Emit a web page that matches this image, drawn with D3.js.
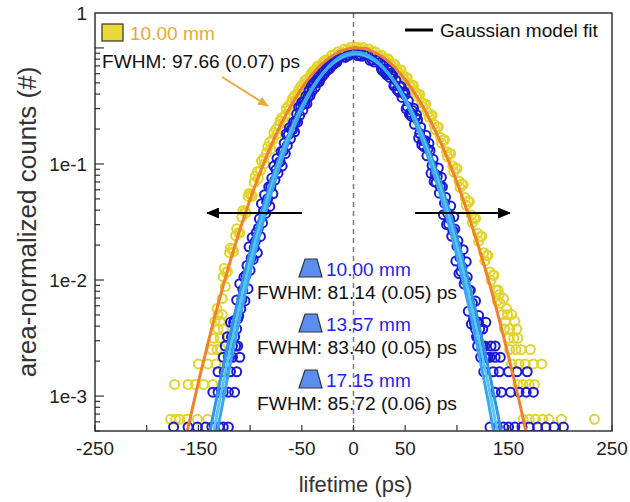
<!DOCTYPE html>
<html>
<head>
<meta charset="utf-8">
<title>Lifetime distributions</title>
<script src="https://cdn.jsdelivr.net/npm/d3@7"></script>
<style>
  body { margin: 0; background: #fff; }
  svg text { font-family: "Liberation Sans", Arial, sans-serif; }
</style>
</head>
<body>
<div id="chart"></div>
<script>
// ---- data -------------------------------------------------------------
const xTickValues = [-250, -200, -150, -100, -50, 0, 50, 100, 150, 200, 250];
const xTickLabels = [-250, -150, -50, 0, 50, 150, 250];
const yTickLabels = [[1, "1"], [1e-1, "1e-1"], [1e-2, "1e-2"], [1e-3, "1e-3"]];

// Gaussian model fits
const orangeFitX = [-170, -160, -150, -140, -130, -120, -110, -100, -90, -80, -70, -60, -50, -40, -30, -20, -10, 0,
  10, 20, 30, 40, 50, 60, 70, 80, 90, 100, 110, 120, 130, 140, 150, 160, 170, 180];
const orangeFit = [2.07e-4, 5.36e-4, 1.32e-3, 3.04e-3, 6.64e-3, 0.0137, 0.0269, 0.0495, 0.0861, 0.142, 0.221, 0.324,
  0.451, 0.592, 0.735, 0.861, 0.954, 0.997, 0.987, 0.921, 0.814, 0.678, 0.535, 0.398, 0.280, 0.186, 0.117, 0.0695,
  0.0390, 0.0206, 0.0104, 4.90e-3, 2.19e-3, 9.25e-4, 3.70e-4, 1.39e-4];

const blueFitX = [-150, -140, -130, -120, -110, -100, -90, -80, -70, -60, -50, -40, -30, -20, -10, 0,
  10, 20, 30, 40, 50, 60, 70, 80, 90, 100, 110, 120, 130, 140, 150];
const blueFit1 = [5.48e-5, 1.89e-4, 6.0e-4, 1.75e-3, 4.68e-3, 0.0115, 0.0261, 0.0542, 0.104, 0.182, 0.295, 0.438,
  0.598, 0.750, 0.866, 0.918, 0.896, 0.803, 0.661, 0.501, 0.349, 0.223, 0.131, 0.0710, 0.0353, 0.0161, 6.78e-3,
  2.62e-3, 9.29e-4, 3.03e-4, 9.1e-5];
const blueFit2 = [9.0e-5, 2.91e-4, 8.67e-4, 2.39e-3, 6.07e-3, 0.0142, 0.0308, 0.0617, 0.114, 0.195, 0.306, 0.446,
  0.598, 0.742, 0.850, 0.899, 0.877, 0.791, 0.658, 0.506, 0.359, 0.235, 0.1425, 0.0796, 0.0411, 0.0196, 8.61e-3,
  3.50e-3, 1.31e-3, 4.55e-4, 1.45e-4];
const blueFit3 = [1.44e-4, 4.36e-4, 1.23e-3, 3.20e-3, 7.74e-3, 0.0174, 0.0361, 0.0696, 0.1245, 0.206, 0.317, 0.452,
  0.598, 0.733, 0.834, 0.879, 0.859, 0.779, 0.655, 0.510, 0.369, 0.247, 0.1537, 0.0886, 0.0474, 0.0235, 0.0108,
  4.60e-3, 1.82e-3, 6.66e-4, 2.26e-4];

// measured histograms, [lifetime ps, area-normalized counts]
const yellow10 = [
  [-177, 6.3e-4], [-172, 6.3e-4], [-168, 6.3e-4], [-161, 6.3e-4], [-151, 6.3e-4], [-141, 6.3e-4],
  [-173, 1.26e-3], [-160, 1.26e-3], [-153, 1.26e-3], [-145, 1.26e-3], [-136, 1.26e-3],
  [-150, 1.89e-3], [-141, 1.89e-3], [-133, 1.89e-3], [-137, 2.52e-3], [-132, 2.52e-3], [-128, 2.52e-3],
  [-135, 3.15e-3], [-129, 3.15e-3], [-131, 3.78e-3], [-126, 3.78e-3], [-134, 4.41e-3], [-129, 4.41e-3],
  [-131, 5.04e-3], [-127, 5.04e-3], [-132, 5.67e-3], [-127, 6.93e-3], [-124, 8.8e-3],
  [-126, 0.01069], [-123, 0.01157], [-120, 0.01719], [-117, 0.01841], [-114, 0.02413], [-111, 0.02558],
  [-108, 0.03475], [-105, 0.03907], [-102, 0.05254], [-99, 0.05458], [-96, 0.06938], [-93, 0.08574],
  [-90, 0.0877], [-87, 0.1123], [-84, 0.1247], [-81, 0.1545], [-78, 0.1622], [-75, 0.199], [-72, 0.2164],
  [-69, 0.2508], [-66, 0.2639], [-63, 0.3173], [-60, 0.3412], [-57, 0.3886], [-54, 0.4053], [-51, 0.4664],
  [-48, 0.487], [-45, 0.5421], [-42, 0.5603], [-39, 0.6318], [-36, 0.6463], [-33, 0.705], [-30, 0.7305],
  [-27, 0.7886], [-24, 0.7907], [-21, 0.8647], [-18, 0.8779], [-15, 0.9286], [-12, 0.912], [-9, 0.9772],
  [-6, 0.9721], [-3, 1.008], [0, 0.9696], [3, 1.018], [6, 0.9922], [9, 1.008], [12, 0.9499], [15, 0.9772],
  [18, 0.9333], [21, 0.9286], [24, 0.8579], [27, 0.8647], [30, 0.8091], [33, 0.8071], [36, 0.7305],
  [39, 0.7215], [42, 0.6614], [45, 0.6464], [48, 0.5733], [51, 0.5548], [54, 0.487], [57, 0.4772],
  [60, 0.4147], [63, 0.3931], [66, 0.3381], [69, 0.3247], [72, 0.2763], [75, 0.2627], [78, 0.2189],
  [81, 0.2084], [84, 0.1698], [87, 0.1618], [90, 0.1276], [93, 0.1232], [96, 0.09616], [99, 0.09188],
  [102, 0.07099], [105, 0.06714], [108, 0.05134], [111, 0.04807], [114, 0.03639], [117, 0.0345],
  [120, 0.02527], [123, 0.02372], [126, 0.01719], [129, 0.01634], [132, 0.01173], [135, 0.01103],
  [138, 0.00821], [141, 0.00747],
  [-125, 0.01261], [-122, 0.01187], [-119, 0.01886], [-116, 0.01756], [-113, 0.02762], [-110, 0.02545],
  [-107, 0.03964], [-104, 0.03787], [-101, 0.05574], [-98, 0.05272], [-95, 0.07858], [-92, 0.07527],
  [-89, 0.1061], [-86, 0.1006], [-83, 0.1404], [-80, 0.1348], [-77, 0.1862], [-74, 0.181], [-71, 0.2363],
  [-68, 0.2276], [-65, 0.301], [-62, 0.2935], [-59, 0.3668], [-56, 0.3541], [-53, 0.4382], [-50, 0.4384],
  [-47, 0.5247], [-44, 0.508], [-41, 0.6016], [-38, 0.6035], [-35, 0.6917], [-32, 0.6713], [-29, 0.7613],
  [31, 0.7801], [34, 0.7932], [37, 0.7004], [40, 0.723], [43, 0.6175], [46, 0.6457], [49, 0.5338],
  [52, 0.5524], [55, 0.4622], [58, 0.4735], [61, 0.3834], [64, 0.3978], [67, 0.3115], [70, 0.3274],
  [73, 0.2538], [76, 0.264], [79, 0.198], [82, 0.2087], [85, 0.1514], [88, 0.1615], [91, 0.116],
  [94, 0.1226], [97, 0.08511], [100, 0.09111], [103, 0.06262], [106, 0.06633], [109, 0.04411],
  [112, 0.04732], [115, 0.03115], [118, 0.03386], [121, 0.02157], [124, 0.02373], [127, 0.01462],
  [130, 0.0163], [133, 9.94e-3], [136, 0.01097], [139, 6.62e-3],
  [140, 8.19e-3], [145, 6.93e-3], [142, 6.3e-3], [148, 5.67e-3],
  [144, 5.04e-3], [149, 5.04e-3], [153, 5.04e-3], [147, 4.41e-3], [156, 4.41e-3],
  [146, 3.78e-3], [151, 3.78e-3], [158, 3.78e-3], [150, 3.15e-3], [155, 3.15e-3], [159, 3.15e-3],
  [151, 2.52e-3], [157, 2.52e-3], [162, 2.52e-3], [171, 2.52e-3],
  [153, 1.89e-3], [160, 1.89e-3], [166, 1.89e-3], [174, 1.89e-3], [182, 1.89e-3],
  [159, 1.26e-3], [164, 1.26e-3], [170, 1.26e-3], [175, 1.26e-3],
  [164, 6.3e-4], [170, 6.3e-4], [176, 6.3e-4], [183, 6.3e-4], [189, 6.3e-4], [201, 6.3e-4], [233, 6.3e-4]
];

const blue10 = [
  [-174, 5.4e-4], [-151, 5.4e-4], [-137, 5.4e-4], [-126, 5.4e-4], [-136, 1.08e-3], [-126, 1.08e-3],
  [-131, 1.62e-3], [-119, 1.62e-3], [-126, 2.16e-3], [-124, 2.70e-3], [-122, 3.24e-3],
  [-120, 2.16e-3], [-114, 2.70e-3], [-108, 6.78e-3], [-102, 8.43e-3], [-96, 0.01895], [-90, 0.02377],
  [-84, 0.04691], [-78, 0.05539], [-72, 0.1029], [-66, 0.1226], [-60, 0.1999], [-54, 0.2292], [-48, 0.344],
  [-42, 0.389], [-36, 0.5245], [-30, 0.5708], [-24, 0.7083], [-18, 0.7425], [-12, 0.867], [-6, 0.8553],
  [0, 0.9186], [6, 0.8728], [12, 0.9026], [18, 0.7889], [24, 0.7858], [30, 0.6172], [36, 0.6059],
  [42, 0.4378], [48, 0.4139], [54, 0.2687], [60, 0.2504], [66, 0.1462], [72, 0.1342], [78, 0.07043],
  [84, 0.06372], [90, 0.03003], [96, 0.02679], [102, 0.01136], [108, 9.98e-3], [114, 4.17e-3],
  [120, 3.24e-3], [126, 1.62e-3],
  [-117, 2.16e-3], [-111, 4.88e-3], [-105, 6.61e-3], [-99, 0.01543], [-93, 0.01712], [-87, 0.03938],
  [-81, 0.04306], [-75, 0.08906], [-69, 0.09594], [-63, 0.1783], [-57, 0.1894], [-51, 0.3163],
  [-45, 0.3311], [-39, 0.4971], [-33, 0.5127], [-27, 0.6918], [-21, 0.7032],
  [27, 0.6601], [33, 0.658], [39, 0.4716], [45, 0.4632], [51, 0.2984], [57, 0.2888], [63, 0.1673],
  [69, 0.1596], [75, 0.08305], [81, 0.07809], [87, 0.03652], [93, 0.03384], [99, 0.01456], [105, 0.013],
  [111, 5.38e-3], [117, 4.22e-3], [123, 2.16e-3],
  [118, 3.78e-3], [128, 4.32e-3], [127, 2.70e-3], [137, 2.70e-3], [132, 2.16e-3], [135, 1.62e-3],
  [158, 1.62e-3], [137, 1.08e-3], [160, 1.08e-3], [174, 1.08e-3],
  [132, 5.4e-4], [145, 5.4e-4], [163, 5.4e-4], [186, 5.4e-4], [203, 5.4e-4]
];

const blue1357 = [
  [-160, 5.4e-4], [-143, 5.4e-4], [-130, 5.4e-4], [-121, 5.4e-4], [-131, 1.08e-3], [-121, 1.08e-3],
  [-125, 1.62e-3], [-113, 1.62e-3], [-121, 2.16e-3], [-117, 2.70e-3], [-115, 3.24e-3], [-113, 3.78e-3],
  [-119, 4.32e-3],
  [-118, 3.24e-3], [-112, 4.62e-3], [-106, 0.0106], [-100, 0.01212], [-94, 0.02564], [-88, 0.03105],
  [-82, 0.06351], [-76, 0.07263], [-70, 0.1279], [-64, 0.1446], [-58, 0.2296], [-52, 0.2627], [-46, 0.385],
  [-40, 0.4255], [-34, 0.5622], [-28, 0.6003], [-22, 0.732], [-16, 0.7553], [-10, 0.8696], [-4, 0.867],
  [2, 0.9209], [8, 0.8472], [14, 0.8696], [20, 0.7553], [26, 0.7489], [32, 0.5867], [38, 0.5753],
  [44, 0.4158], [50, 0.394], [56, 0.2567], [62, 0.2404], [68, 0.1413], [74, 0.1309], [80, 0.06935],
  [86, 0.06351], [92, 0.03034], [98, 0.02747], [104, 0.01184], [110, 0.0106], [116, 4.62e-3],
  [122, 3.78e-3], [128, 2.16e-3],
  [-115, 4.51e-3], [-109, 5.64e-3], [-103, 0.01336], [-97, 0.01505], [-91, 0.03366], [-85, 0.0375],
  [-79, 0.07556], [-73, 0.08328], [-67, 0.1514], [-61, 0.1649], [-55, 0.2703], [-49, 0.2911],
  [-43, 0.4302], [-37, 0.458], [-31, 0.6104], [-25, 0.6427], [-19, 0.7724],
  [29, 0.7047], [35, 0.5568], [41, 0.5258], [47, 0.3748], [53, 0.3499], [59, 0.2197], [65, 0.2076],
  [71, 0.1175], [77, 0.1098], [83, 0.05605], [89, 0.05176], [95, 0.02383], [101, 0.02176],
  [107, 9.24e-3], [113, 8.15e-3], [119, 3.24e-3], [125, 2.70e-3],
  [125, 3.78e-3], [121, 4.32e-3], [120, 2.70e-3], [133, 2.70e-3], [137, 2.16e-3], [141, 1.62e-3],
  [168, 1.62e-3], [143, 1.08e-3], [167, 1.08e-3],
  [139, 5.4e-4], [156, 5.4e-4], [170, 5.4e-4], [194, 5.4e-4]
];

const blue1715 = [
  [-115, 1.08e-3], [-112, 2.70e-3], [-110, 2.16e-3],
  [-116, 4.29e-3], [-110, 9.30e-3], [-104, 0.01104], [-98, 0.0232], [-92, 0.02795], [-86, 0.05435],
  [-80, 0.06346], [-74, 0.1116], [-68, 0.1292], [-62, 0.2056], [-56, 0.2307], [-50, 0.3398], [-44, 0.3783],
  [-38, 0.5039], [-32, 0.5433], [-26, 0.6699], [-20, 0.7165], [-14, 0.8177], [-8, 0.8283], [-2, 0.8952],
  [4, 0.8587], [10, 0.879], [16, 0.7805], [22, 0.7922], [28, 0.6364], [34, 0.6408], [40, 0.4763],
  [46, 0.4648], [52, 0.3125], [58, 0.3024], [64, 0.1838], [70, 0.1765], [76, 0.09705], [82, 0.09239],
  [88, 0.04597], [94, 0.04338], [100, 0.01952], [106, 0.01827], [112, 8.15e-3], [118, 6.59e-3],
  [124, 2.70e-3], [130, 2.16e-3],
  [-113, 6.72e-3], [-107, 8.27e-3], [-101, 0.01931], [-95, 0.02151], [-89, 0.04545], [-83, 0.05017],
  [-77, 0.09587], [-71, 0.105], [-65, 0.1815], [-59, 0.1971], [-53, 0.3082], [-47, 0.3319],
  [-41, 0.4694], [-35, 0.5013], [-29, 0.6412], [-23, 0.6639], [-17, 0.7858],
  [31, 0.6118], [37, 0.5801], [43, 0.4355], [49, 0.4193], [55, 0.278], [61, 0.2655], [67, 0.1593],
  [73, 0.1508], [79, 0.08182], [85, 0.07682], [91, 0.0377], [97, 0.0351], [103, 0.01559], [109, 0.01439],
  [115, 6.34e-3], [121, 4.94e-3], [127, 2.16e-3],
  [142, 2.16e-3], [150, 1.62e-3], [152, 1.08e-3], [150, 5.4e-4], [178, 5.4e-4]
];

const blueLabels = ["10.00 mm", "13.57 mm", "17.15 mm"];
const blueFwhm = ["FWHM: 81.14 (0.05) ps", "FWHM: 83.40 (0.05) ps", "FWHM: 85.72 (0.06) ps"];
const yellowLabel = "10.00 mm";
const yellowFwhm = "FWHM: 97.66 (0.07) ps";

// ---- layout -----------------------------------------------------------
const W = 630, H = 502;
const margin = { top: 13, right: 18, bottom: 71, left: 95 };
const width = W - margin.left - margin.right;
const height = H - margin.top - margin.bottom;

const x = d3.scaleLinear().domain([-250, 250]).range([0, width]);
const y = d3.scaleLog().domain([5e-4, 2]).range([height, 0]);

const svg = d3.select("#chart").append("svg")
  .attr("width", W).attr("height", H);

const defs = svg.append("defs");
defs.append("clipPath").attr("id", "plotclip")
  .append("rect").attr("width", width).attr("height", height);

function arrowMarker(id, color, w, h) {
  defs.append("marker")
    .attr("id", id)
    .attr("markerUnits", "userSpaceOnUse")
    .attr("viewBox", `0 0 ${w} ${h}`)
    .attr("refX", w - 1).attr("refY", h / 2)
    .attr("markerWidth", w).attr("markerHeight", h)
    .attr("orient", "auto")
    .append("path")
    .attr("d", `M0,0 L${w},${h / 2} L0,${h} z`)
    .attr("fill", color);
}
arrowMarker("blackHead", "#000", 13, 11);
arrowMarker("orangeHead", "#e9aa3c", 11, 9);

function addText(parent, px, py, str, opts = {}) {
  return parent.append("text")
    .attr("transform", `translate(${px},${py}) scale(${opts.sx || 1},1)`)
    .attr("text-anchor", opts.anchor || "start")
    .attr("font-size", opts.size || 18)
    .attr("fill", opts.color || "#1a1a1a")
    .text(str);
}

const g = svg.append("g").attr("transform", `translate(${margin.left},${margin.top})`);

// zero line
g.append("line")
  .attr("x1", x(0)).attr("x2", x(0)).attr("y1", 0).attr("y2", height)
  .attr("stroke", "#7a7a7a").attr("stroke-width", 1.5).attr("stroke-dasharray", "5,4");

const plot = g.append("g").attr("clip-path", "url(#plotclip)");

function drawPoints(data, color) {
  plot.append("g").selectAll("circle")
    .data(data)
    .enter().append("circle")
    .attr("cx", d => x(d[0]))
    .attr("cy", d => y(d[1]))
    .attr("r", 4.5)
    .attr("fill", "none")
    .attr("stroke", color)
    .attr("stroke-width", 2);
}
drawPoints(yellow10, "#e2d42c");
drawPoints(blue10, "#1a1ad8");
drawPoints(blue1357, "#1a1ad8");
drawPoints(blue1715, "#1a1ad8");

const line = d3.line()
  .x(d => x(d[0]))
  .y(d => y(d[1]))
  .curve(d3.curveCatmullRom);

[[blueFit3, "#2f95e6"], [blueFit2, "#5cc3f7"], [blueFit1, "#3aa8f0"]].forEach(([vals, color]) => {
  plot.append("path")
    .datum(d3.zip(blueFitX, vals))
    .attr("d", line)
    .attr("fill", "none")
    .attr("stroke", color)
    .attr("stroke-width", 3);
});
plot.append("path")
  .datum(d3.zip(orangeFitX, orangeFit))
  .attr("d", line)
  .attr("fill", "none")
  .attr("stroke", "#f0812e")
  .attr("stroke-width", 3);

// ---- axes -------------------------------------------------------------
g.append("rect")
  .attr("width", width).attr("height", height)
  .attr("fill", "none").attr("stroke", "#333").attr("stroke-width", 1.5);

g.append("g").selectAll("line")
  .data(xTickValues)
  .enter().append("line")
  .attr("x1", d => x(d)).attr("x2", d => x(d))
  .attr("y1", height).attr("y2", height - 6)
  .attr("stroke", "#333").attr("stroke-width", 1.2);

xTickLabels.forEach(v => {
  addText(g, x(v), height + 24, String(v), { anchor: "middle", size: 18, sx: 1.05, color: "#222" });
});

const yTicks = y.ticks().filter(v => v >= 5e-4 && v <= 1.001);
g.append("g").selectAll("line")
  .data(yTicks)
  .enter().append("line")
  .attr("x1", 0)
  .attr("x2", d => Math.abs(Math.log10(d) - Math.round(Math.log10(d))) < 1e-6 ? 9 : 5)
  .attr("y1", d => y(d)).attr("y2", d => y(d))
  .attr("stroke", "#333").attr("stroke-width", 1.2);

yTickLabels.forEach(([v, label]) => {
  const py = v === 1 ? 7 : y(v) + 7;
  addText(g, -8, py, label, { anchor: "end", size: 18, sx: 1.05, color: "#222" });
});

addText(svg, margin.left + x(0) + 2, 492, "lifetime (ps)", { anchor: "middle", size: 22, color: "#333" });
svg.append("text")
  .attr("transform", `translate(36,${margin.top + height / 2}) rotate(-90)`)
  .attr("text-anchor", "middle")
  .attr("font-size", 26)
  .attr("fill", "#333")
  .text("area-normalized counts (#)");

// ---- annotations ------------------------------------------------------
// yellow legend
svg.append("rect")
  .attr("x", 102).attr("y", 24).attr("width", 21).attr("height", 17)
  .attr("fill", "#e8da38").attr("stroke", "#333").attr("stroke-width", 1.2);
addText(svg, 130, 40, yellowLabel, { color: "#eba932", sx: 1.06 });
addText(svg, 102, 68, yellowFwhm, { color: "#111", sx: 1.06 });
svg.append("line")
  .attr("x1", 222).attr("y1", 77).attr("x2", 268).attr("y2", 106)
  .attr("stroke", "#e9aa3c").attr("stroke-width", 2)
  .attr("marker-end", "url(#orangeHead)");

// fit legend
svg.append("line")
  .attr("x1", 405).attr("x2", 433).attr("y1", 30).attr("y2", 30)
  .attr("stroke", "#000").attr("stroke-width", 3);
addText(svg, 440, 37, "Gaussian model fit", { color: "#111", sx: 1.06 });

// blue legends
const blueRows = [276, 331, 387];
blueLabels.forEach((label, i) => {
  const by = blueRows[i];
  svg.append("path")
    .attr("d", `M${299},${by + 1} L${322},${by + 1} L${317},${by - 17} L${305},${by - 17} Z`)
    .attr("fill", "#5b8def").attr("stroke", "#333").attr("stroke-width", 1.2);
  addText(svg, 326, by, label, { color: "#1f1ff0", sx: 1.06 });
  addText(svg, 257, by + 23, blueFwhm[i], { color: "#111", sx: 1.07 });
});

// direction arrows
svg.append("line")
  .attr("x1", 302).attr("x2", 207).attr("y1", 213).attr("y2", 213)
  .attr("stroke", "#000").attr("stroke-width", 2)
  .attr("marker-end", "url(#blackHead)");
svg.append("line")
  .attr("x1", 415).attr("x2", 510).attr("y1", 213).attr("y2", 213)
  .attr("stroke", "#000").attr("stroke-width", 2)
  .attr("marker-end", "url(#blackHead)");
</script>
</body>
</html>
